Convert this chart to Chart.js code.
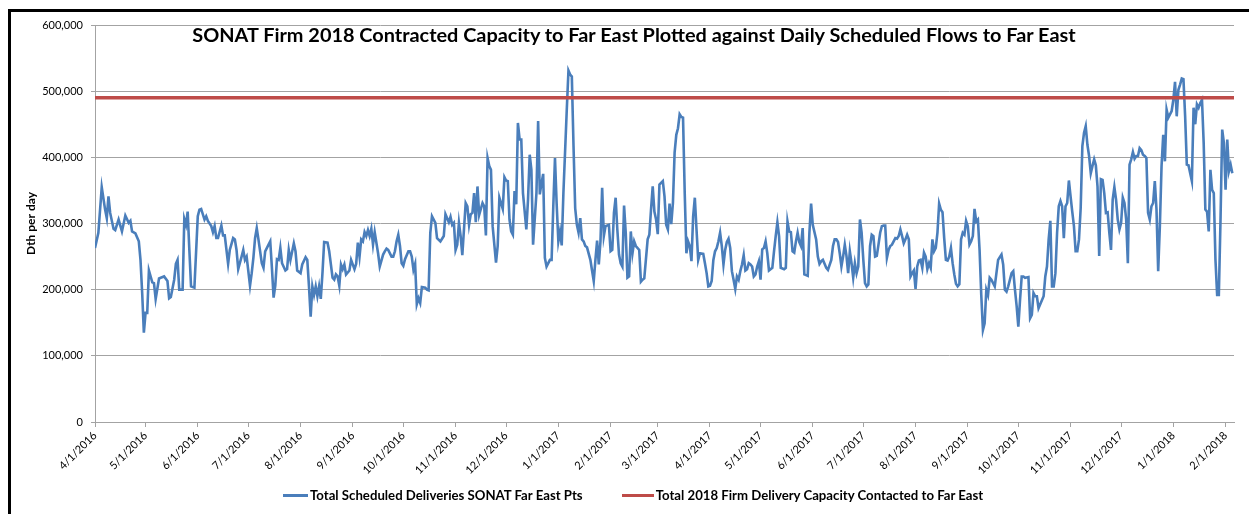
<!DOCTYPE html>
<html><head><meta charset="utf-8">
<script src="https://cdn.jsdelivr.net/npm/chart.js@4.4.1/dist/chart.umd.min.js"></script>
<style>
html,body{margin:0;padding:0;background:#fff;}
#wrap{position:relative;width:1249px;height:514px;overflow:hidden;background:#fff;}
#frame{position:absolute;left:8px;top:9px;width:1400px;height:700px;border-left:3px solid #000;border-top:3px solid #000;pointer-events:none;box-sizing:border-box;}
canvas{position:absolute;left:0;top:0;}
#title{position:absolute;left:0;width:1268px;top:22px;text-align:center;font-family:Lato,sans-serif;font-weight:bold;font-size:19.9px;color:#000;white-space:nowrap;}
#legend{position:absolute;top:487px;left:283px;display:flex;align-items:center;font-family:Lato,sans-serif;font-weight:bold;font-size:13.2px;color:#000;white-space:nowrap;}
.sw{display:inline-block;width:25px;height:3px;margin-right:2px;}
</style></head>
<body>
<div id="wrap">
<canvas id="c" width="1249" height="514"></canvas>
<div id="frame"></div>
<div id="title">SONAT Firm 2018 Contracted Capacity to Far East Plotted against Daily Scheduled Flows to Far East</div>
<div id="legend"><span class="sw" style="background:#4a7ebb"></span><span>Total Scheduled Deliveries SONAT Far East Pts</span><span style="display:inline-block;width:39px"></span><span class="sw" style="background:#be4b48;width:32px"></span><span>Total 2018 Firm Delivery Capacity Contacted to Far East</span></div>
</div>
<script>
const monthTickLabels = ["4/1/2016","5/1/2016","6/1/2016","7/1/2016","8/1/2016","9/1/2016","10/1/2016","11/1/2016","12/1/2016","1/1/2017","2/1/2017","3/1/2017","4/1/2017","5/1/2017","6/1/2017","7/1/2017","8/1/2017","9/1/2017","10/1/2017","11/1/2017","12/1/2017","1/1/2018","2/1/2018"];

// days after 4/1/2016
const flowDays = [0,2,4,6,7,8,9,11,12,14,16,18,20,21,22,24,26,27,28,29,30,31,32,34,35,36,38,39,41,43,44,45,47,48,49,50,52,53,54,55,56,57,59,61,62,63,65,66,67,69,70,71,72,73,75,76,77,79,80,82,83,84,85,
87,88,89,90,92,93,94,95,96,97,99,100,101,103,104,105,106,107,108,109,110,111,113,114,115,116,118,119,120,122,123,125,126,127,128,129,130,131,132,133,134,135,136,138,139,141,142,143,144,145,146,147,148,149,151,152,154,155,156,157,158,159,160,161,162,163,164,165,166,168,169,
171,172,173,174,176,177,178,179,180,181,182,183,184,186,187,188,189,190,191,192,193,194,196,197,198,199,200,202,203,205,207,208,210,211,212,213,214,215,216,217,218,220,221,222,223,224,225,226,227,228,230,231,232,233,234,235,236,238,239,240,242,243,244,245,246,247,248,249,250,251,252,253,254,
256,257,258,259,260,262,263,264,265,266,267,268,270,271,272,273,274,275,276,277,278,280,281,282,283,284,285,286,287,288,289,290,291,292,294,295,296,297,298,299,300,301,302,303,305,306,307,308,309,310,311,312,313,314,315,316,317,318,319,320,321,323,324,325,326,328,329,330,331,332,333,334,335,337,338,339,340,341,342,
343,344,345,346,347,348,349,350,351,352,353,354,355,356,357,358,359,361,362,363,364,365,366,367,368,369,370,371,372,373,374,375,376,377,378,379,380,381,382,383,384,385,386,387,388,389,390,391,392,393,394,395,396,397,398,399,400,402,403,404,405,406,407,409,410,411,412,413,414,415,416,417,418,419,420,421,422,423,424,425,426,428,429,
430,431,432,433,434,435,437,438,439,440,441,442,443,444,445,446,447,448,449,450,451,452,453,454,455,456,457,458,459,460,461,462,463,464,465,466,467,468,469,470,471,472,473,474,475,476,477,478,479,480,481,482,483,484,485,486,487,488,489,490,491,492,493,494,495,496,497,498,499,500,501,502,503,504,505,506,507,508,509,510,511,512,513,
514,515,516,517,518,519,520,521,522,523,524,525,526,527,528,529,530,531,532,534,535,536,537,538,539,540,541,542,543,544,545,546,547,548,549,550,551,552,554,555,556,557,558,559,560,562,563,564,565,566,567,568,569,570,571,572,573,574,575,576,577,578,579,580,581,582,583,584,585,586,587,588,589,590,591,592,593,594,595,
596,597,598,599,600,601,602,603,604,605,606,607,608,609,610,611,612,613,614,615,616,617,618,619,620,621,622,623,624,625,626,627,628,629,630,631,632,633,634,635,636,637,638,639,640,641,642,643,644,645,646,647,648,649,650,651,652,653,654,655,656,657,658,659,660,661,662,663,664,665,666,667,668,669,670,671,672,673,674,675];

// thousand Dth per day
const flowKDth = [263,286,355,321,308,341,316,292,290,306,288,312,301,304,288,285,273,245,195,135,165,165,229,211,210,186,217,218,220,213,187,189,215,239,245,200,200,307,298,318,260,205,203,311,321,322,306,311,304,296,287,296,278,278,297,282,282,239,260,278,276,260,231,
250,260,245,250,206,225,248,278,293,276,240,233,258,268,273,233,188,206,246,245,263,240,229,231,260,245,270,258,229,225,238,249,245,205,159,205,192,205,190,205,186,225,272,271,258,218,215,223,220,206,238,231,238,223,229,245,231,239,271,250,276,273,287,281,290,281,292,268,287,255,235,
253,258,262,260,250,250,258,273,283,266,240,236,246,258,258,250,230,239,178,187,180,204,203,200,199,286,311,301,278,273,281,314,302,310,298,301,260,268,301,281,252,331,326,298,314,316,346,302,356,313,331,326,282,399,387,381,296,241,266,339,322,370,365,364,306,288,283,349,329,452,427,427,346,
291,336,404,381,268,346,455,344,361,375,248,235,245,245,326,399,329,273,288,267,346,472,531,525,522,417,323,298,286,308,276,273,266,264,245,229,213,245,274,238,273,354,281,296,298,258,260,316,339,291,253,240,235,327,286,218,220,288,255,273,266,260,212,215,217,276,283,321,356,318,306,284,359,364,341,298,291,330,299,
331,407,434,444,465,461,460,346,255,273,266,243,311,339,291,245,255,254,240,225,205,206,213,245,258,263,273,286,266,238,260,272,277,263,228,215,201,220,215,228,238,252,229,231,240,238,235,220,223,235,243,215,261,263,273,255,229,233,258,281,302,281,233,231,233,303,288,287,258,256,273,286,272,266,293,223,222,221,286,330,298,276,250,
239,243,245,239,233,230,245,266,276,276,272,255,235,250,268,251,225,258,240,218,240,225,235,306,286,245,210,205,208,266,283,281,250,251,268,286,296,297,297,248,260,266,268,273,278,277,281,291,281,270,276,283,276,220,225,229,201,235,244,245,233,256,250,231,240,233,276,258,263,286,330,321,317,278,245,244,250,263,240,223,209,205,208,
276,286,283,304,296,268,273,281,322,303,306,260,192,139,149,200,192,218,215,205,225,245,249,253,238,200,197,205,215,225,228,200,175,144,184,220,220,218,219,157,162,195,190,190,172,184,190,220,235,276,304,205,205,225,286,326,334,326,278,326,331,365,341,318,296,258,258,276,323,417,437,447,419,402,376,387,397,388,356,
251,367,366,346,316,317,286,260,336,355,336,306,291,301,339,331,306,240,389,397,408,398,402,402,414,411,404,402,399,316,306,326,331,364,321,228,296,387,434,394,472,460,465,470,487,514,462,502,510,519,518,462,389,388,376,364,475,450,480,475,482,487,422,321,318,288,381,351,346,245,192,192,306,442,422,351,427,379,389,376];

const firmCapacityDth = 490000;
const axisStartDay = 0;
const axisEndDay = 676;
const yTickValues = [0,100000,200000,300000,400000,500000,600000];

function dayOffset(label){
  const p = label.split('/').map(Number);
  return Math.round((Date.UTC(p[2],p[0]-1,p[1]) - Date.UTC(2016,3,1)) / 86400000);
}
const tickDays = monthTickLabels.map(dayOffset);
const flowPoints = flowDays.map((d,i)=>({x:d, y:flowKDth[i]*1000}));
const capacityPoints = [{x:axisStartDay,y:firmCapacityDth},{x:axisEndDay,y:firmCapacityDth}];

const gridCol = '#a3a3a3';
new Chart(document.getElementById('c'), {
  type:'line',
  data:{datasets:[
    {label:'Total Scheduled Deliveries SONAT Far East Pts', data:flowPoints, borderColor:'#4a7ebb', backgroundColor:'#4a7ebb', borderWidth:2.6, pointRadius:0, tension:0, order:1},
    {label:'Total 2018 Firm Delivery Capacity Contacted to Far East', data:capacityPoints, borderColor:'#be4b48', backgroundColor:'#be4b48', borderWidth:3.5, pointRadius:0, order:0}
  ]},
  options:{
    responsive:false, animation:false, devicePixelRatio:1,
    layout:{padding:{left:0,top:25,right:15,bottom:32}},
    plugins:{legend:{display:false}, tooltip:{enabled:false}},
    scales:{
      x:{type:'linear', min:axisStartDay, max:axisEndDay,
        afterBuildTicks:s=>{s.ticks = tickDays.map(v=>({value:v}));},
        afterFit:s=>{s.height=60;},
        ticks:{autoSkip:false, maxRotation:45, minRotation:45, padding:2, color:'#000', font:{family:'Lato', size:11},
          callback:(v,i)=>monthTickLabels[i]},
        grid:{drawOnChartArea:false, drawTicks:true, tickLength:5, color:gridCol},
        border:{color:gridCol, width:1}},
      y:{min:0, max:600000,
        afterBuildTicks:s=>{s.ticks = yTickValues.map(v=>({value:v}));},
        afterFit:s=>{s.width=95;},
        ticks:{padding:8, color:'#000', font:{family:'Lato', size:11}, callback:v=>Number(v).toLocaleString('en-US')},
        grid:{color:gridCol, tickLength:4},
        border:{color:gridCol, width:1},
        title:{display:true, text:'Dth per day', color:'#000', font:{family:'Lato', size:12, weight:'bold'}, padding:{top:24,bottom:0}}}
    }
  }
});
</script>
</body></html>
